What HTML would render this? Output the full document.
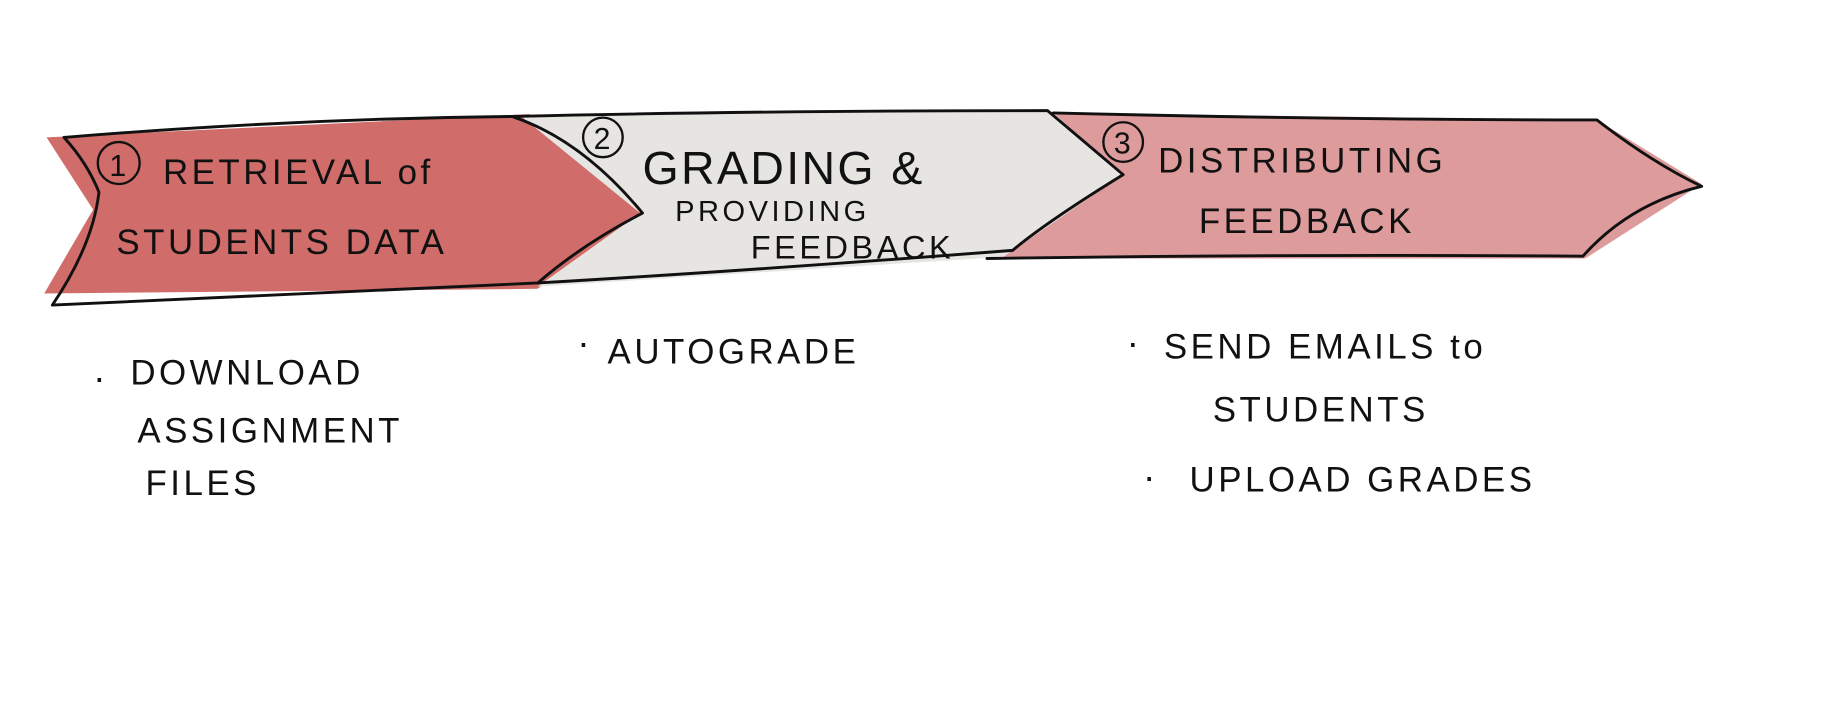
<!DOCTYPE html>
<html><head><meta charset="utf-8"><style>
html,body{margin:0;padding:0;background:#fff;width:1825px;height:715px;overflow:hidden}
svg{display:block}
text{font-family:"Liberation Sans",sans-serif;fill:#111;}
</style></head><body>
<svg width="1825" height="715" viewBox="0 0 1568 614" preserveAspectRatio="none">
<!-- fills -->
<path d="M40,118 L455,98 L550,183 L462,248 L38,252 L80,180 Z" fill="#cd6461" opacity="0.95"/>
<path d="M448,100 L900,95 L968,152 L872,220 L462,246 L550,183 Z" fill="#e6e5e2"/>
<path d="M905,97 L1372,103 L1462,158 L1362,222 L860,222 L965,150 Z" fill="#de9b9b"/>
<!-- outlines -->
<g fill="none" stroke="#111" stroke-width="2.5" stroke-linejoin="round" stroke-linecap="round">
<path d="M55,118 Q250,102 440,100 Q500,120 552,183 Q500,210 462,243"/>
<path d="M55,118 Q75,140 85,165 Q80,210 45,262 Q250,252 462,243"/>
<path d="M440,100 Q650,95 900,95 L965,150 Q900,190 870,215 Q650,232 462,243"/>
<path d="M905,97 Q1150,103 1372,103 Q1420,140 1462,160 Q1400,175 1360,220 Q1100,218 848,222"/>
</g>
<g font-size="30" letter-spacing="3">
<circle cx="102" cy="140" r="18" fill="none" stroke="#111" stroke-width="2"/>
<text x="94" y="151" font-size="26">1</text>
<text x="140" y="158">RETRIEVAL  of</text>
<text x="100" y="218">STUDENTS  DATA</text>
<circle cx="518" cy="118" r="17" fill="none" stroke="#111" stroke-width="2"/>
<text x="510" y="128" font-size="26">2</text>
<text x="552" y="158" font-size="40" letter-spacing="2">GRADING &amp;</text>
<text x="580" y="190" font-size="25">PROVIDING</text>
<text x="645" y="222" font-size="28">FEEDBACK</text>
<circle cx="965" cy="122" r="17" fill="none" stroke="#111" stroke-width="2"/>
<text x="957" y="132" font-size="26">3</text>
<text x="995" y="148">DISTRIBUTING</text>
<text x="1030" y="200">FEEDBACK</text>
<text x="80" y="335" font-size="32">·</text>
<text x="112" y="330">DOWNLOAD</text>
<text x="118" y="380">ASSIGNMENT</text>
<text x="125" y="425">FILES</text>
<text x="496" y="305" font-size="32">·</text>
<text x="522" y="312">AUTOGRADE</text>
<text x="968" y="305" font-size="32">·</text>
<text x="1000" y="308">SEND  EMAILS  to</text>
<text x="1042" y="362">STUDENTS</text>
<text x="982" y="420" font-size="32">·</text>
<text x="1022" y="422">UPLOAD  GRADES</text>
</g>
</svg>
</body></html>
